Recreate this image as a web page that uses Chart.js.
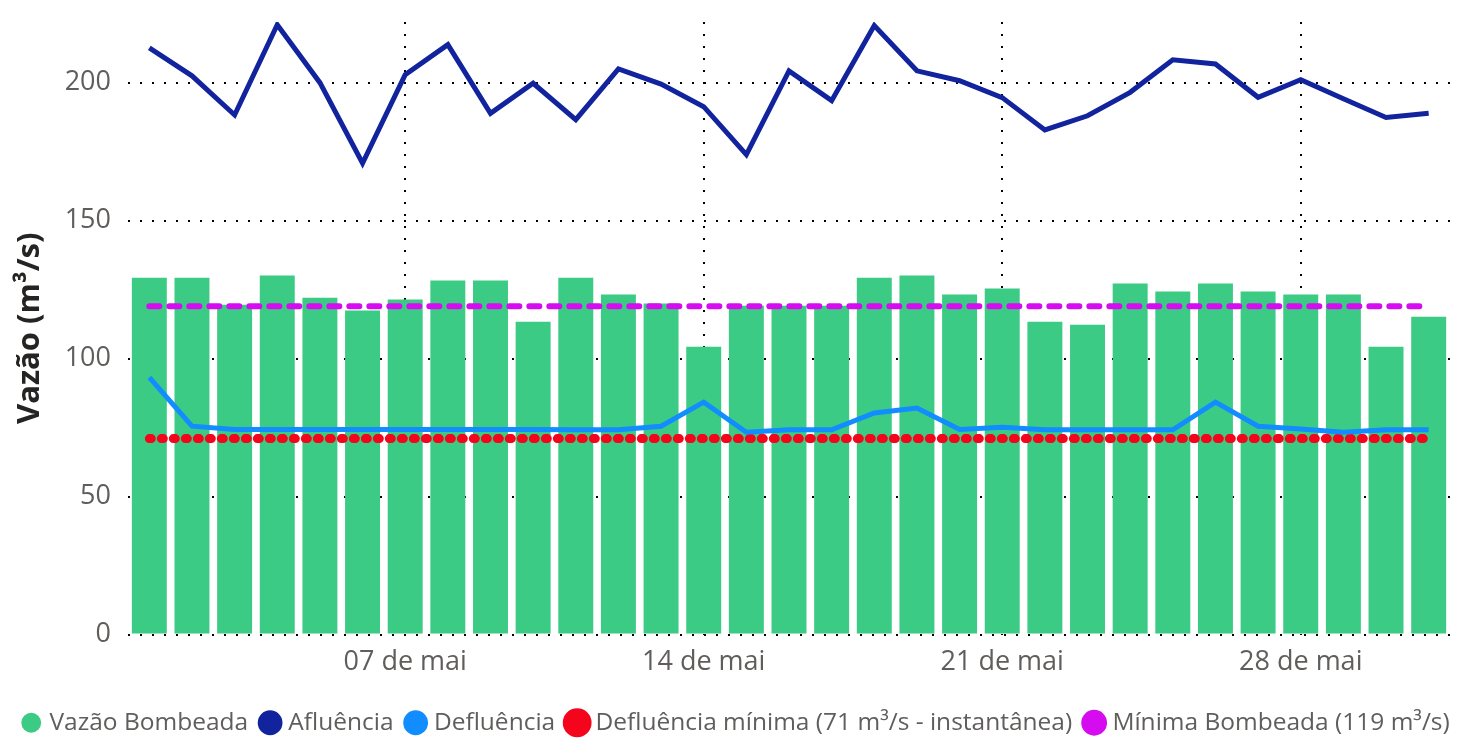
<!DOCTYPE html>
<html lang="pt-BR">
<head>
  <meta charset="UTF-8" />
  <title>Vazão</title>
  <script src="https://cdn.jsdelivr.net/npm/chart.js"></script>
  <style>
    html, body {
      margin: 0;
      background: #ffffff;
    }
    #wrap {
      width: 1475px;
      height: 738px;
      position: relative;
    }
  </style>
</head>
<body>
  <div id="wrap"><canvas id="grafico"></canvas></div>

<script>
  const dias = [
    '01 de mai', '02 de mai', '03 de mai', '04 de mai', '05 de mai', '06 de mai', '07 de mai',
    '08 de mai', '09 de mai', '10 de mai', '11 de mai', '12 de mai', '13 de mai', '14 de mai',
    '15 de mai', '16 de mai', '17 de mai', '18 de mai', '19 de mai', '20 de mai', '21 de mai',
    '22 de mai', '23 de mai', '24 de mai', '25 de mai', '26 de mai', '27 de mai', '28 de mai',
    '29 de mai', '30 de mai', '31 de mai'
  ];
  const rotulosX = ['07 de mai', '14 de mai', '21 de mai', '28 de mai'];
  const ticksY = [0, 50, 100, 150, 200];

  const vazaoBombeada = [
    129.3, 129.3, 119.5, 130.1, 122.1, 117.4, 121.4, 128.3, 128.3, 113.4,
    129.3, 123.2, 120.0, 104.3, 119.2, 119.2, 119.2, 129.3, 130.1, 123.2,
    125.4, 113.4, 112.3, 127.2, 124.3, 127.2, 124.3, 123.2, 123.2, 104.3,
    115.2
  ];
  const afluencia = [
    212.6, 202.5, 188.3, 221.0, 200.0, 170.8, 202.9, 213.8, 188.9, 199.8,
    186.6, 205.0, 199.5, 191.3, 173.9, 204.3, 193.5, 220.7, 204.3, 200.7,
    194.6, 182.9, 188.0, 196.5, 208.3, 206.8, 194.7, 201.1, 194.2, 187.4,
    188.9
  ];
  const defluencia = [
    93.2, 75.5, 74.3, 74.3, 74.3, 74.3, 74.3, 74.3, 74.3, 74.3,
    74.2, 74.2, 75.5, 84.2, 73.3, 74.2, 74.2, 80.3, 82.1, 74.3,
    75.1, 74.2, 74.2, 74.2, 74.2, 84.2, 75.5, 74.5, 73.3, 74.2,
    74.2
  ];
  const defluenciaMinima = [
    71, 71, 71, 71, 71, 71, 71, 71, 71, 71, 71, 71, 71, 71, 71, 71,
    71, 71, 71, 71, 71, 71, 71, 71, 71, 71, 71, 71, 71, 71, 71
  ];
  const minimaBombeada = [
    119, 119, 119, 119, 119, 119, 119, 119, 119, 119, 119, 119, 119, 119, 119, 119,
    119, 119, 119, 119, 119, 119, 119, 119, 119, 119, 119, 119, 119, 119, 119
  ];

  const fonte = '"Open Sans", "Noto Sans", sans-serif';
  const cinza = '#605e5c';

  const ctx = document.getElementById('grafico').getContext('2d');

  new Chart(ctx, {
    type: 'bar',
    data: {
      labels: dias,
      datasets: [
        {
          type: 'bar',
          label: 'Vazão Bombeada',
          data: vazaoBombeada,
          backgroundColor: '#3ccb84',
          borderWidth: 0,
          barPercentage: 0.82,
          categoryPercentage: 1,
          order: 5
        },
        {
          type: 'line',
          label: 'Afluência',
          data: afluencia,
          borderColor: '#12239e',
          backgroundColor: '#12239e',
          borderWidth: 5,
          pointRadius: 0,
          tension: 0,
          order: 0
        },
        {
          type: 'line',
          label: 'Defluência',
          data: defluencia,
          borderColor: '#118dff',
          backgroundColor: '#118dff',
          borderWidth: 5,
          pointRadius: 0,
          tension: 0,
          order: 0
        },
        {
          type: 'line',
          label: 'Defluência mínima (71 m³/s - instantânea)',
          data: defluenciaMinima,
          borderColor: '#f5051b',
          backgroundColor: '#f5051b',
          borderWidth: 9,
          borderDash: [2, 10],
          borderCapStyle: 'round',
          pointRadius: 0,
          order: 1
        },
        {
          type: 'line',
          label: 'Mínima Bombeada (119 m³/s)',
          data: minimaBombeada,
          borderColor: '#d60cf0',
          backgroundColor: '#d60cf0',
          borderWidth: 6,
          borderDash: [10, 10],
          borderCapStyle: 'round',
          pointRadius: 0,
          order: 1
        }
      ]
    },
    options: {
      responsive: true,
      maintainAspectRatio: false,
      animation: false,
      devicePixelRatio: 1,
      layout: {
        padding: { top: 22, right: 0, left: 0, bottom: -7 }
      },
      plugins: {
        tooltip: { enabled: false },
        legend: {
          position: 'bottom',
          labels: {
            usePointStyle: true,
            pointStyle: 'circle',
            boxWidth: 12,
            boxHeight: 14,
            padding: 16,
            color: cinza,
            font: { family: fonte, size: 24.5 },
            sort: (a, b) => a.datasetIndex - b.datasetIndex
          }
        }
      },
      scales: {
        x: {
          offset: true,
          grid: {
            offset: false,
            drawTicks: false,
            lineWidth: 2,
            color: (c) => rotulosX.includes(dias[c.index]) ? '#000000' : 'rgba(0,0,0,0)'
          },
          border: { display: false, dash: [2, 10] },
          ticks: {
            autoSkip: false,
            maxRotation: 0,
            padding: 12,
            color: cinza,
            font: { family: fonte, size: 27 },
            callback: (v, i) => rotulosX.includes(dias[i]) ? dias[i] : ''
          },
          afterFit: (s) => { s.height = 60; }
        },
        y: {
          min: 0,
          max: 222,
          afterBuildTicks: (s) => {
            s.ticks = ticksY.map(v => ({ value: v }));
          },
          grid: {
            drawTicks: false,
            lineWidth: 2,
            color: '#000000'
          },
          border: { display: false, dash: [2, 10] },
          ticks: {
            padding: 17,
            color: cinza,
            font: { family: fonte, size: 27 }
          },
          title: {
            display: true,
            text: 'Vazão (m³/s)',
            color: '#252423',
            font: { family: fonte, size: 31, weight: 'bold' },
            padding: { top: 12, bottom: 0 }
          },
          afterFit: (s) => {
            s.width = 128;
            s.paddingTop = 0;
            s.paddingBottom = 0;
          }
        },
        margemDireita: {
          type: 'linear',
          position: 'right',
          display: true,
          grid: { display: false },
          border: { display: false },
          ticks: { display: false },
          afterFit: (s) => { s.width = 25; }
        }
      }
    }
  });
</script>
</body>
</html>
